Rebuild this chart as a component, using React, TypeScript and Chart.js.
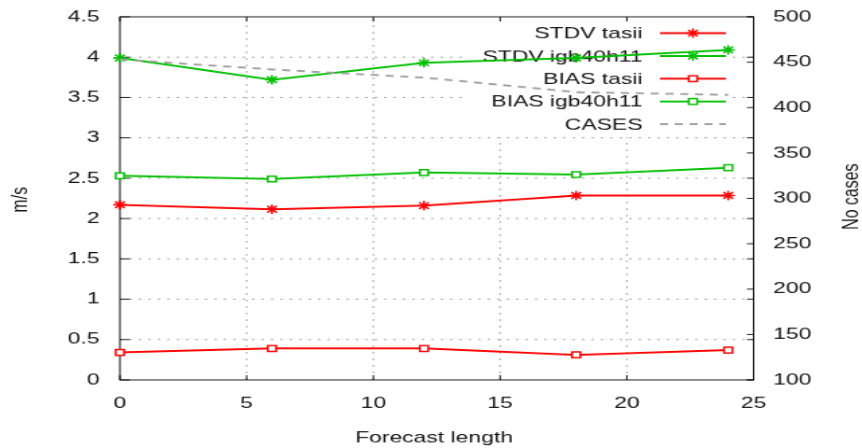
import React, { useEffect, useRef } from "react";
import { Chart, registerables } from "chart.js";

Chart.register(...registerables);

// ---- data ----
const forecastHours = [0, 6, 12, 18, 24];
const stdvTasii = [2.17, 2.115, 2.16, 2.285, 2.285];
const stdvIgb40h11 = [3.99, 3.72, 3.93, 3.99, 4.09];
const biasTasii = [0.34, 0.39, 0.39, 0.31, 0.37];
const biasIgb40h11 = [2.53, 2.49, 2.57, 2.545, 2.63];
const casesCount = [453, 442, 433, 417, 414];

const xTickValues = [0, 5, 10, 15, 20, 25];
const yTickValues = [0, 0.5, 1, 1.5, 2, 2.5, 3, 3.5, 4, 4.5];
const y2TickValues = [100, 150, 200, 250, 300, 350, 400, 450, 500];

const seriesNames = ["STDV tasii", "STDV igb40h11", "BIAS tasii", "BIAS igb40h11", "CASES"];
const xTitle = "Forecast length";
const yTitle = "m/s";
const y2Title = "No cases";

const RED = "#ff0000";
const GREEN = "#00c000";
const GRAY = "#a0a0a0";
const FONT = "17px 'Liberation Sans', Arial, Helvetica, sans-serif";
const STAR_R = 5;
const STAR_W = 1.6;

type Marker = "star" | "square" | "none";
const legendStyles: { color: string; marker: Marker; dash: number[] }[] = [
  { color: RED, marker: "star", dash: [] },
  { color: GREEN, marker: "star", dash: [] },
  { color: RED, marker: "square", dash: [] },
  { color: GREEN, marker: "square", dash: [] },
  { color: GRAY, marker: "none", dash: [6, 5] },
];

function drawStar(ctx: CanvasRenderingContext2D, x: number, y: number, r: number) {
  const d = r * Math.SQRT1_2;
  ctx.beginPath();
  ctx.moveTo(x - r, y);
  ctx.lineTo(x + r, y);
  ctx.moveTo(x, y - r);
  ctx.lineTo(x, y + r);
  ctx.moveTo(x - d, y - d);
  ctx.lineTo(x + d, y + d);
  ctx.moveTo(x - d, y + d);
  ctx.lineTo(x + d, y - d);
  ctx.stroke();
}

function drawSquare(ctx: CanvasRenderingContext2D, x: number, y: number, r: number) {
  const s = r * Math.SQRT1_2;
  ctx.fillStyle = "#ffffff";
  ctx.fillRect(x - s, y - s, 2 * s, 2 * s);
  ctx.strokeRect(x - s, y - s, 2 * s, 2 * s);
}

const gnuplotFrame = {
  id: "gnuplotFrame",
  beforeDatasetsDraw(chart: any) {
    const { ctx, chartArea } = chart;
    const { left, right, top, bottom } = chartArea;
    const xs = chart.scales.x;
    const ys = chart.scales.y;
    const y2s = chart.scales.y2;
    ctx.save();

    // grid (dotted)
    ctx.strokeStyle = GRAY;
    ctx.lineWidth = 1;
    ctx.setLineDash([2, 5]);
    yTickValues.slice(1, -1).forEach((v) => {
      const py = ys.getPixelForValue(v);
      ctx.beginPath();
      ctx.moveTo(left, py);
      ctx.lineTo(right, py);
      ctx.stroke();
    });
    xTickValues.slice(1, -1).forEach((v) => {
      const px = xs.getPixelForValue(v);
      ctx.beginPath();
      ctx.moveTo(px, bottom);
      ctx.lineTo(px, top);
      ctx.stroke();
    });
    ctx.setLineDash([]);

    // key box (opaque area)
    ctx.fillStyle = "#ffffff";
    ctx.fillRect(347, top + 1, 196, 128);

    // border
    ctx.strokeStyle = "#111";
    ctx.lineWidth = 1;
    ctx.strokeRect(left, top, right - left, bottom - top);

    // tick marks
    ctx.beginPath();
    yTickValues.forEach((v) => {
      const py = ys.getPixelForValue(v);
      ctx.moveTo(left, py);
      ctx.lineTo(left + 7.4, py);
      ctx.moveTo(right, py);
      ctx.lineTo(right - 5, py);
    });
    y2TickValues.forEach((v) => {
      const py = y2s.getPixelForValue(v);
      ctx.moveTo(right, py);
      ctx.lineTo(right - 5, py);
    });
    xTickValues.forEach((v) => {
      const px = xs.getPixelForValue(v);
      ctx.moveTo(px, bottom);
      ctx.lineTo(px, bottom - 5);
      ctx.moveTo(px, top);
      ctx.lineTo(px, top + 5);
    });
    ctx.stroke();

    // tick labels
    ctx.fillStyle = "#111";
    ctx.font = FONT;
    ctx.textBaseline = "middle";
    ctx.textAlign = "right";
    yTickValues.forEach((v) => {
      ctx.fillText(String(v), left - 15, ys.getPixelForValue(v));
    });
    ctx.textAlign = "left";
    y2TickValues.forEach((v) => {
      ctx.fillText(String(v), right + 14.5, y2s.getPixelForValue(v));
    });
    ctx.textAlign = "center";
    xTickValues.forEach((v) => {
      ctx.fillText(String(v), xs.getPixelForValue(v), 432.5);
    });

    // axis titles
    ctx.fillText(xTitle, (left + right) / 2 - 2, 469.5);
    ctx.save();
    ctx.translate(15.5, 214);
    ctx.rotate(-Math.PI / 2);
    ctx.fillText(yTitle, 0, 0);
    ctx.restore();
    ctx.save();
    ctx.translate(632.5, 210.7);
    ctx.rotate(-Math.PI / 2);
    ctx.fillText(y2Title, 0, 0);
    ctx.restore();

    // key
    seriesNames.forEach((name, i) => {
      const ly = 35.5 + 24.4 * i;
      const st = legendStyles[i];
      ctx.fillStyle = "#111";
      ctx.textAlign = "right";
      ctx.fillText(name, 477, ly + 1);
      ctx.strokeStyle = st.color;
      ctx.lineWidth = 2;
      ctx.setLineDash(st.dash);
      ctx.beginPath();
      ctx.moveTo(490, ly);
      ctx.lineTo(539, ly);
      ctx.stroke();
      ctx.setLineDash([]);
      if (st.marker === "star") {
        ctx.lineWidth = STAR_W;
        drawStar(ctx, 514.5, ly, STAR_R);
      } else if (st.marker === "square") {
        ctx.lineWidth = 1.5;
        drawSquare(ctx, 514.5, ly, 4.4);
      }
    });

    ctx.restore();
  },
};

function points(values: number[]) {
  return forecastHours.map((h, i) => ({ x: h, y: values[i] }));
}

export default function App() {
  const canvasRef = useRef<HTMLCanvasElement | null>(null);

  useEffect(() => {
    if (!canvasRef.current) return;
    const common = {
      borderWidth: 2,
      tension: 0,
      clip: false as any,
    };
    const chart = new Chart(canvasRef.current, {
      type: "line",
      data: {
        datasets: [
          {
            ...common,
            label: seriesNames[0],
            data: points(stdvTasii),
            borderColor: RED,
            backgroundColor: RED,
            pointStyle: "star",
            pointRadius: STAR_R,
            pointBorderWidth: STAR_W,
            pointBorderColor: RED,
            yAxisID: "y",
            order: 5,
          },
          {
            ...common,
            label: seriesNames[1],
            data: points(stdvIgb40h11),
            borderColor: GREEN,
            backgroundColor: GREEN,
            pointStyle: "star",
            pointRadius: STAR_R,
            pointBorderWidth: STAR_W,
            pointBorderColor: GREEN,
            yAxisID: "y",
            order: 4,
          },
          {
            ...common,
            label: seriesNames[2],
            data: points(biasTasii),
            borderColor: RED,
            backgroundColor: "#ffffff",
            pointStyle: "rect",
            pointRadius: 4.4,
            pointBorderWidth: 1.5,
            pointBorderColor: RED,
            pointBackgroundColor: "#ffffff",
            yAxisID: "y",
            order: 3,
          },
          {
            ...common,
            label: seriesNames[3],
            data: points(biasIgb40h11),
            borderColor: GREEN,
            backgroundColor: "#ffffff",
            pointStyle: "rect",
            pointRadius: 4.4,
            pointBorderWidth: 1.5,
            pointBorderColor: GREEN,
            pointBackgroundColor: "#ffffff",
            yAxisID: "y",
            order: 2,
          },
          {
            ...common,
            label: seriesNames[4],
            data: points(casesCount),
            borderColor: GRAY,
            backgroundColor: GRAY,
            borderDash: [6, 5],
            pointRadius: 0,
            yAxisID: "y2",
            order: 1,
          },
        ],
      },
      options: {
        responsive: false,
        animation: false,
        devicePixelRatio: 1,
        layout: { padding: { left: 89, right: 80.5, top: 18, bottom: 73 } },
        plugins: {
          legend: { display: false },
          tooltip: { enabled: false },
        },
        events: [],
        scales: {
          x: { type: "linear", display: false, min: 0, max: 25 },
          y: { type: "linear", display: false, min: 0, max: 4.5 },
          y2: { type: "linear", display: false, position: "right", min: 100, max: 500 },
        },
      },
      plugins: [gnuplotFrame],
    });
    return () => chart.destroy();
  }, []);

  return (
    <div style={{ position: "fixed", left: 0, top: 0, width: 862, height: 448, background: "#fff" }}>
      <canvas
        ref={canvasRef}
        width={640}
        height={480}
        style={{ width: "862px", height: "448px", display: "block" }}
      />
    </div>
  );
}
